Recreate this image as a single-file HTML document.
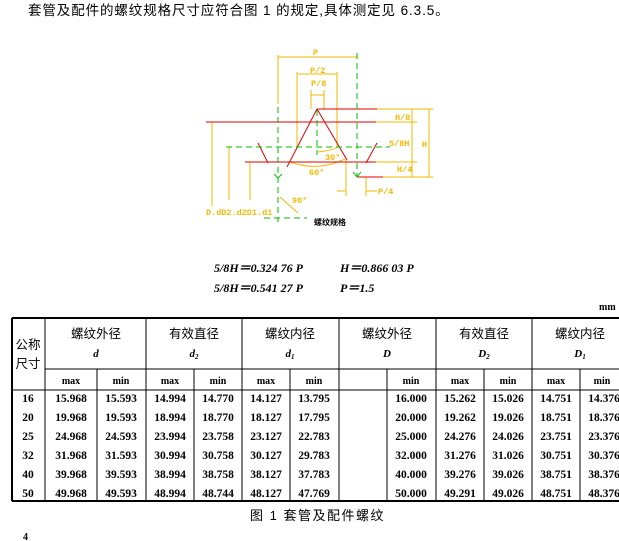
<!DOCTYPE html>
<html><head><meta charset="utf-8"><style>
html,body{margin:0;padding:0;background:#fff;width:619px;height:541px;overflow:hidden}
svg{display:block}
.cj{font-family:"Liberation Sans","Noto Sans CJK SC",sans-serif}
.nm{font-family:"Liberation Serif",serif;font-weight:bold}
</style></head><body>
<svg width="619" height="541" viewBox="0 0 619 541" xmlns="http://www.w3.org/2000/svg">
<text x="28" y="15" font-size="13.5" class="cj" fill="#000" letter-spacing="0.9">套管及配件的螺纹规格尺寸应符合图 1 的规定,具体测定见 6.3.5。</text>

<!-- diagram -->
<g stroke-width="1" fill="none">
<g stroke="#f5b800">
<line x1="278" y1="55" x2="278" y2="104"/><line x1="278" y1="57" x2="357" y2="57"/>
<line x1="297" y1="72" x2="297" y2="147"/><line x1="337" y1="72" x2="337" y2="147"/><line x1="297" y1="74" x2="337" y2="74"/>
<line x1="311" y1="90" x2="311" y2="109"/><line x1="324" y1="90" x2="324" y2="109"/><line x1="311" y1="95" x2="324" y2="95"/>
<line x1="377" y1="109" x2="433" y2="109"/><line x1="376" y1="122" x2="417" y2="122"/><line x1="376" y1="162" x2="417" y2="162"/><line x1="383" y1="177" x2="433" y2="177"/>
<line x1="412" y1="109" x2="412" y2="177"/><line x1="429" y1="109" x2="429" y2="177"/>
<line x1="212" y1="122" x2="212" y2="206"/><line x1="229" y1="147" x2="229" y2="200"/><line x1="250" y1="162" x2="250" y2="200"/>
<line x1="346" y1="160" x2="346" y2="196"/><line x1="366" y1="177" x2="366" y2="196"/><line x1="337" y1="191" x2="346" y2="191"/><line x1="366" y1="191" x2="377" y2="191"/>
<path d="M290 162 Q318 172 345 159"/><path d="M318 152 Q335 150 337 147"/>
<line x1="280" y1="197" x2="298" y2="213"/>
</g>
<g stroke="#e00000">
<line x1="206" y1="122" x2="376" y2="122"/><line x1="317" y1="109" x2="377" y2="109"/>
<line x1="245" y1="162" x2="376" y2="162"/><line x1="357" y1="177" x2="383" y2="177"/>
<line x1="317" y1="109" x2="287" y2="167"/><line x1="317" y1="109" x2="347" y2="160"/>
<line x1="258" y1="143" x2="268" y2="163"/><line x1="366" y1="163" x2="377" y2="143"/>
</g>
<g stroke="#00c000" stroke-dasharray="6,4">
<line x1="226" y1="147" x2="390" y2="147"/><line x1="278" y1="107" x2="278" y2="222"/>
<line x1="357" y1="53" x2="357" y2="177"/><line x1="317" y1="110" x2="317" y2="155"/>
<line x1="264" y1="218" x2="307" y2="218"/>
</g>
<g stroke="#00c000"><path d="M274 174 L278 178 L282 174"/><path d="M353 172 L357 177 L361 172"/></g>
</g>
<g font-family="Liberation Mono,monospace" font-size="8.5" fill="#f5b800" font-weight="bold">
<text x="313" y="55">P</text><text x="310" y="73">P/2</text><text x="311" y="86">P/8</text>
<text x="395" y="120">H/8</text><text x="389" y="146">5/8H</text><text x="422" y="147">H</text><text x="397" y="172">H/4</text>
<text x="378" y="194">P/4</text><text x="325" y="160">30°</text><text x="309" y="175">60°</text><text x="292" y="203">90°</text>
<text x="206" y="215">D.dD2.d2D1.d1</text>
</g>
<text x="314" y="225" font-size="8" class="cj" font-weight="bold" fill="#000">螺纹规格</text>

<g font-family="Liberation Serif,serif" font-style="italic" font-weight="bold" font-size="12" fill="#000">
<text x="214" y="272">5/8H＝0.324 76 P</text><text x="340" y="272">H＝0.866 03 P</text>
<text x="214" y="292">5/8H＝0.541 27 P</text><text x="340" y="292">P＝1.5</text>
</g>
<text x="599" y="310" font-size="10" class="nm">mm</text>

<!-- table -->
<g stroke="#000" fill="none">
<line x1="12" y1="318" x2="619" y2="318" stroke-width="2"/>
<line x1="12" y1="501" x2="619" y2="501" stroke-width="2"/>
<line x1="12" y1="318" x2="12" y2="501" stroke-width="2"/>
<line x1="45" y1="369" x2="619" y2="369"/><line x1="12" y1="390" x2="619" y2="390"/>
<line x1="45" y1="318" x2="45" y2="501"/><line x1="146" y1="318" x2="146" y2="501"/><line x1="242" y1="318" x2="242" y2="501"/>
<line x1="339" y1="318" x2="339" y2="501"/><line x1="436" y1="318" x2="436" y2="501"/><line x1="532" y1="318" x2="532" y2="501"/>
<line x1="97" y1="369" x2="97" y2="501"/><line x1="194" y1="369" x2="194" y2="501"/><line x1="290" y1="369" x2="290" y2="501"/>
<line x1="387" y1="369" x2="387" y2="501"/><line x1="484" y1="369" x2="484" y2="501"/><line x1="580" y1="369" x2="580" y2="501"/>
</g>
<g class="cj" font-size="12.5" text-anchor="middle" fill="#000">
<text x="28" y="349">公称</text><text x="28" y="368">尺寸</text>
<text x="96" y="338">螺纹外径</text><text x="194" y="338">有效直径</text><text x="290" y="338">螺纹内径</text>
<text x="387" y="338">螺纹外径</text><text x="484" y="338">有效直径</text><text x="580" y="338">螺纹内径</text>
</g>
<g font-family="Liberation Serif,serif" font-style="italic" font-weight="bold" font-size="11" text-anchor="middle">
<text x="96" y="357">d</text><text x="194" y="357">d<tspan font-size="7" dy="2">2</tspan></text><text x="290" y="357">d<tspan font-size="7" dy="2">1</tspan></text>
<text x="387" y="357">D</text><text x="484" y="357">D<tspan font-size="7" dy="2">2</tspan></text><text x="580" y="357">D<tspan font-size="7" dy="2">1</tspan></text>
</g>
<g class="nm" font-size="10" text-anchor="middle">
<text x="71" y="384">max</text><text x="121" y="384">min</text><text x="170" y="384">max</text><text x="218" y="384">min</text>
<text x="266" y="384">max</text><text x="314" y="384">min</text><text x="411" y="384">min</text>
<text x="460" y="384">max</text><text x="508" y="384">min</text><text x="556" y="384">max</text><text x="602" y="384">min</text>
</g>
<g class="nm" font-size="11.5" text-anchor="middle">
<g transform="translate(0,402)"><text x="28">16</text><text x="71">15.968</text><text x="121">15.593</text><text x="170">14.994</text><text x="218">14.770</text><text x="266">14.127</text><text x="314">13.795</text><text x="411">16.000</text><text x="460">15.262</text><text x="508">15.026</text><text x="556">14.751</text><text x="604">14.376</text></g>
<g transform="translate(0,421)"><text x="28">20</text><text x="71">19.968</text><text x="121">19.593</text><text x="170">18.994</text><text x="218">18.770</text><text x="266">18.127</text><text x="314">17.795</text><text x="411">20.000</text><text x="460">19.262</text><text x="508">19.026</text><text x="556">18.751</text><text x="604">18.376</text></g>
<g transform="translate(0,440)"><text x="28">25</text><text x="71">24.968</text><text x="121">24.593</text><text x="170">23.994</text><text x="218">23.758</text><text x="266">23.127</text><text x="314">22.783</text><text x="411">25.000</text><text x="460">24.276</text><text x="508">24.026</text><text x="556">23.751</text><text x="604">23.376</text></g>
<g transform="translate(0,459)"><text x="28">32</text><text x="71">31.968</text><text x="121">31.593</text><text x="170">30.994</text><text x="218">30.758</text><text x="266">30.127</text><text x="314">29.783</text><text x="411">32.000</text><text x="460">31.276</text><text x="508">31.026</text><text x="556">30.751</text><text x="604">30.376</text></g>
<g transform="translate(0,478)"><text x="28">40</text><text x="71">39.968</text><text x="121">39.593</text><text x="170">38.994</text><text x="218">38.758</text><text x="266">38.127</text><text x="314">37.783</text><text x="411">40.000</text><text x="460">39.276</text><text x="508">39.026</text><text x="556">38.751</text><text x="604">38.376</text></g>
<g transform="translate(0,497)"><text x="28">50</text><text x="71">49.968</text><text x="121">49.593</text><text x="170">48.994</text><text x="218">48.744</text><text x="266">48.127</text><text x="314">47.769</text><text x="411">50.000</text><text x="460">49.291</text><text x="508">49.026</text><text x="556">48.751</text><text x="604">48.376</text></g>
</g>
<text x="250" y="520" font-size="13" class="cj" letter-spacing="1.5">图 1  套管及配件螺纹</text>
<text x="23" y="540" font-size="10" class="nm">4</text>
</svg>
</body></html>
